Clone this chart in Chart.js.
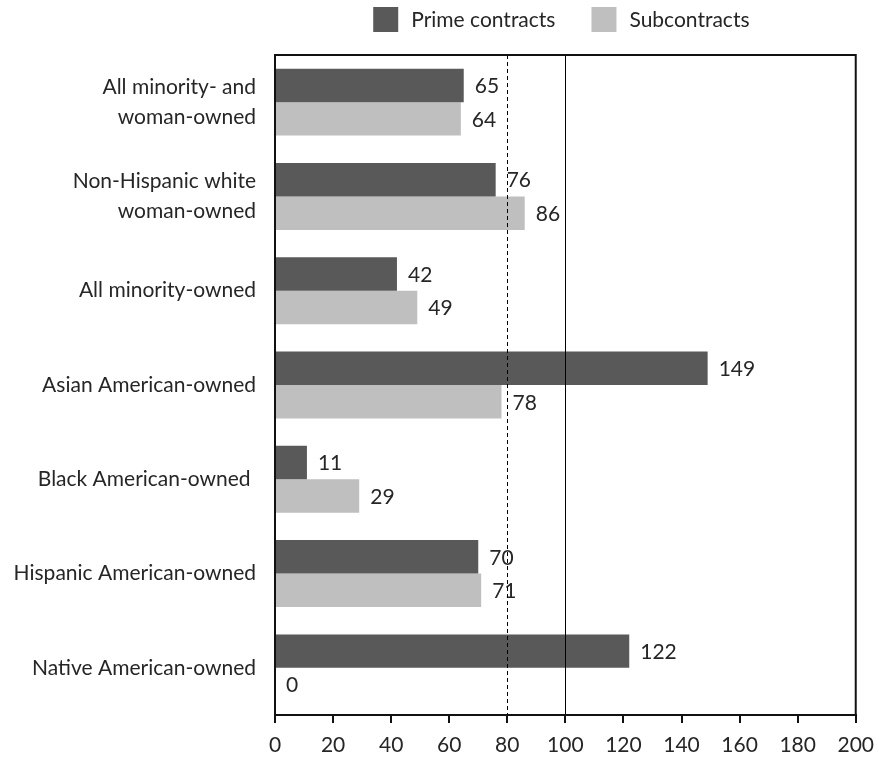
<!DOCTYPE html>
<html>
<head>
<meta charset="utf-8">
<script src="https://cdn.jsdelivr.net/npm/chart.js@4/dist/chart.umd.min.js"></script>
<style>
  html, body { margin: 0; padding: 0; background: #fff; }
  #wrap { width: 884px; height: 757px; }
</style>
</head>
<body>
<div id="wrap"><canvas id="chart" width="884" height="757"></canvas></div>
<script>
// chart data
const categories = [
  ['All minority- and', 'woman-owned'],
  ['Non-Hispanic white', 'woman-owned'],
  'All minority-owned',
  'Asian American-owned',
  'Black American-owned ',
  'Hispanic American-owned',
  'Native American-owned'
];
const primeValues = [65, 76, 42, 149, 11, 70, 122];
const subValues = [64, 86, 49, 78, 29, 71, 0];
const xTicks = [0, 20, 40, 60, 80, 100, 120, 140, 160, 180, 200];
const refLines = [80, 100];

const FONT = 'Lato, "Open Sans", sans-serif';
const TEXT = '#262626';

// value labels at the end of each bar
const barLabels = {
  id: 'barLabels',
  afterDatasetsDraw(chart) {
    const ctx = chart.ctx;
    ctx.save();
    ctx.font = '21px ' + FONT;
    ctx.fillStyle = TEXT;
    ctx.textBaseline = 'middle';
    ctx.textAlign = 'left';
    chart.data.datasets.forEach((ds, i) => {
      chart.getDatasetMeta(i).data.forEach((bar, j) => {
        ctx.fillText(String(ds.data[j]), bar.x + 11, bar.y + 1);
      });
    });
    ctx.restore();
  }
};

// 80 (dashed) and 100 (solid) lines, plus the box round the plot
const refAndBox = {
  id: 'refAndBox',
  afterDatasetsDraw(chart) {
    const { ctx, chartArea: a, scales: { x } } = chart;
    ctx.save();
    ctx.strokeStyle = '#000';
    ctx.lineWidth = 1;
    refLines.forEach((v, i) => {
      const px = Math.round(x.getPixelForValue(v)) + 0.5;
      ctx.setLineDash(i === 0 ? [4, 3] : []);
      ctx.beginPath();
      ctx.moveTo(px, a.top);
      ctx.lineTo(px, a.bottom);
      ctx.stroke();
    });
    ctx.setLineDash([]);
    ctx.lineWidth = 2;
    ctx.strokeStyle = '#111';
    ctx.strokeRect(a.left, a.top, a.right - a.left, a.bottom - a.top);
    ctx.restore();
  }
};

// legend above the plot, centred on the plot area
const topLegend = {
  id: 'topLegend',
  afterDraw(chart) {
    const { ctx, chartArea: a } = chart;
    const box = 25, gap = 13, between = 36;
    ctx.save();
    ctx.font = '21px ' + FONT;
    ctx.textBaseline = 'middle';
    ctx.textAlign = 'left';
    const items = chart.data.datasets.map(ds => ({
      text: ds.label, color: ds.backgroundColor, w: ctx.measureText(ds.label).width
    }));
    const total = items.reduce((s, it) => s + box + gap + it.w, 0) + between * (items.length - 1);
    let x = (a.left + a.right) / 2 - 4 - total / 2;
    const y = 7;
    items.forEach(it => {
      ctx.fillStyle = it.color;
      ctx.fillRect(x, y, box, box);
      ctx.fillStyle = TEXT;
      ctx.fillText(it.text, x + box + gap, y + box / 2 + 1);
      x += box + gap + it.w + between;
    });
    ctx.restore();
  }
};

new Chart(document.getElementById('chart'), {
  type: 'bar',
  data: {
    labels: categories,
    datasets: [
      { label: 'Prime contracts', data: primeValues, backgroundColor: '#595959' },
      { label: 'Subcontracts', data: subValues, backgroundColor: '#bfbfbf' }
    ]
  },
  options: {
    indexAxis: 'y',
    responsive: false,
    animation: false,
    devicePixelRatio: 1,
    categoryPercentage: 0.71,
    barPercentage: 1.0,
    layout: { padding: { top: 55, right: 27, bottom: 0, left: 0 } },
    plugins: {
      legend: { display: false },
      tooltip: { enabled: false }
    },
    scales: {
      x: {
        min: 0,
        max: 200,
        afterBuildTicks(scale) {
          scale.ticks = xTicks.map(v => ({ value: v }));
        },
        afterFit(scale) { scale.height = 42; },
        grid: { display: true, drawOnChartArea: false, drawTicks: true, tickLength: 8, color: '#111', lineWidth: 2 },
        border: { display: true, color: '#111', width: 2 },
        ticks: { color: TEXT, padding: 10, font: { family: FONT, size: 21 } }
      },
      y: {
        afterFit(scale) { scale.width = 275; },
        grid: { display: false },
        border: { display: true, color: '#111', width: 2 },
        ticks: { color: TEXT, padding: 11, font: { family: FONT, size: 21, lineHeight: 1.4 } }
      }
    }
  },
  plugins: [barLabels, refAndBox, topLegend]
});
</script>
</body>
</html>
